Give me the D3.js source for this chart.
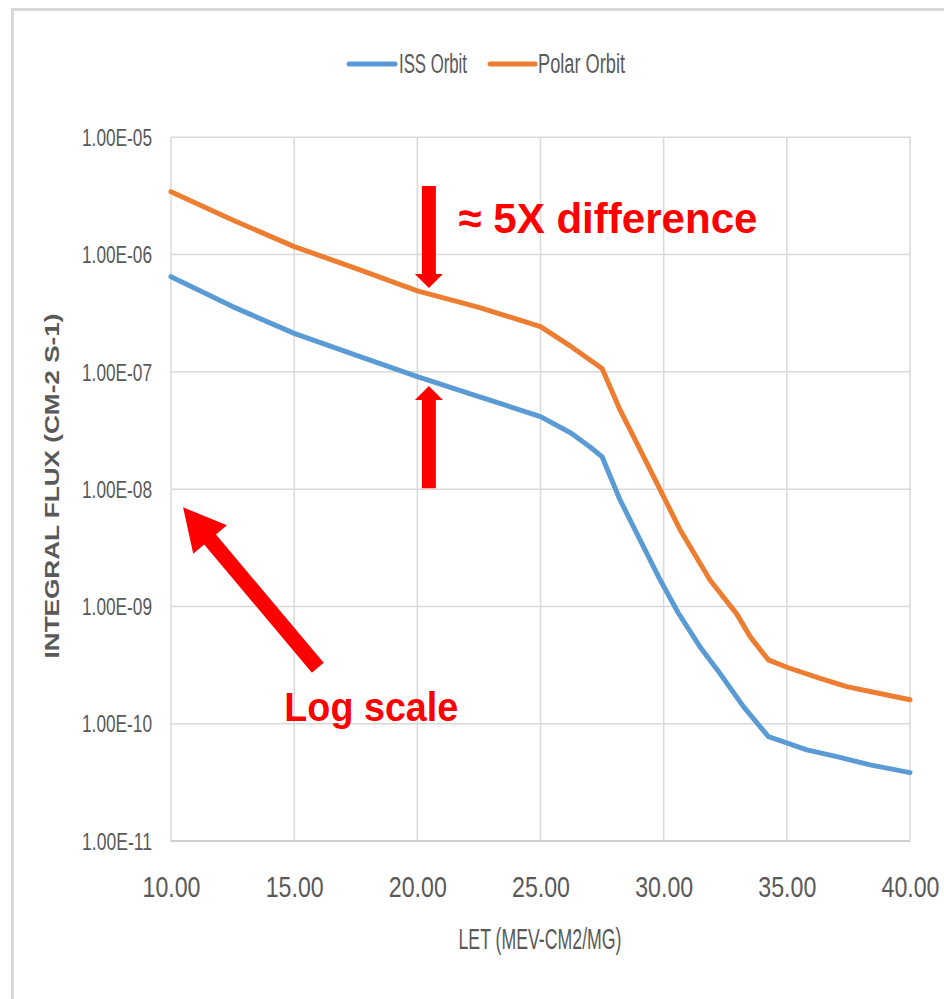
<!DOCTYPE html>
<html>
<head>
<meta charset="utf-8">
<script src="https://cdn.jsdelivr.net/npm/d3@7"></script>
<style>
  html, body { margin: 0; padding: 0; background: #ffffff; }
  svg { display: block; }
</style>
</head>
<body>
<script>
// ---------------- data ----------------
const seriesNames = ["ISS Orbit", "Polar Orbit"];
const seriesColors = ["#5B9BD5", "#ED7D31"];

const letISS = [10, 12.5, 15, 17.5, 20, 22.5, 25, 26.25, 27, 27.5, 28.23, 29.04, 29.86, 30.6, 31.47, 32.28, 33.24, 34.25, 34.73, 35.81, 37.03, 38.38, 40];
const fluxISS = [6.48e-7, 3.6e-7, 2.13e-7, 1.39e-7, 9.1e-8, 6.15e-8, 4.15e-8, 3.0e-8, 2.3e-8, 1.89e-8, 8.09e-9, 3.69e-9, 1.68e-9, 8.75e-10, 4.54e-10, 2.69e-10, 1.40e-10, 7.76e-11, 7.18e-11, 5.98e-11, 5.24e-11, 4.46e-11, 3.83e-11];

const letPolar = [10, 12.5, 15, 17.5, 20, 22.5, 25, 26.25, 27.5, 28.23, 28.64, 29.86, 30.67, 31.07, 31.88, 32.97, 33.51, 34.25, 35, 36.35, 37.43, 38.38, 40];
const fluxPolar = [3.44e-6, 1.97e-6, 1.17e-6, 7.64e-7, 4.9e-7, 3.55e-7, 2.43e-7, 1.64e-7, 1.07e-7, 4.73e-8, 3.2e-8, 9.85e-9, 4.49e-9, 3.24e-9, 1.68e-9, 8.6e-10, 5.53e-10, 3.5e-10, 3.03e-10, 2.44e-10, 2.07e-10, 1.88e-10, 1.6e-10];

const xTicks = [10, 15, 20, 25, 30, 35, 40];
const yTicks = [1e-5, 1e-6, 1e-7, 1e-8, 1e-9, 1e-10, 1e-11];
const yTickLabels = ["1.00E-05", "1.00E-06", "1.00E-07", "1.00E-08", "1.00E-09", "1.00E-10", "1.00E-11"];

const xTitle = "LET (MEV-CM2/MG)";
const yTitle = "INTEGRAL FLUX (CM-2 S-1)";

// annotations (data coordinates)
const noteDiffText = "≈ 5X difference";
const noteDiffPos = [21.67, 1.53e-6];
const noteLogText = "Log scale";
const noteLogPos = [14.6, 1.06e-10];
const arrowDown = { x: 20.47, from: 3.84e-6, to: 5.19e-7 };
const arrowUp = { x: 20.47, from: 1.02e-8, to: 7.59e-8 };
const arrowDiag = { from: [15.96, 3.0e-10], to: [10.49, 7.0e-9] };

// ---------------- layout ----------------
const W = 944, H = 999;
const M = { left: 171, right: 910, top: 137.3, bottom: 841 };
const textGray = "#595959";
const gridGray = "#D9D9D9";
const red = "#FF0000";
const font = "'Liberation Sans', Arial, sans-serif";

const svg = d3.select("body").append("svg").attr("width", W).attr("height", H);

// outer frame (left + top visible)
svg.append("path")
  .attr("d", `M12.5,${H} L12.5,9.5 L${W},9.5`)
  .attr("fill", "none").attr("stroke", gridGray).attr("stroke-width", 3);

const x = d3.scaleLinear().domain([10, 40]).range([M.left, M.right]);
const y = d3.scaleLog().domain([1e-11, 1e-5]).range([M.bottom, M.top]);

// gridlines
const gGrid = svg.append("g");
gGrid.selectAll("line.h").data(yTicks).join("line")
  .attr("x1", M.left).attr("x2", M.right)
  .attr("y1", d => y(d)).attr("y2", d => y(d))
  .attr("stroke", gridGray).attr("stroke-width", 1.5);
gGrid.selectAll("line.v").data(xTicks).join("line")
  .attr("y1", M.top).attr("y2", M.bottom)
  .attr("x1", d => x(d)).attr("x2", d => x(d))
  .attr("stroke", gridGray).attr("stroke-width", 1.5);
// bottom axis line
svg.append("line").attr("x1", M.left).attr("x2", M.right)
  .attr("y1", M.bottom).attr("y2", M.bottom)
  .attr("stroke", "#D0D0D0").attr("stroke-width", 2);

// y axis
const yAxis = d3.axisLeft(y).tickValues(yTicks)
  .tickFormat((d, i) => yTickLabels[i]).tickSize(0).tickPadding(0);
const gy = svg.append("g").attr("transform", `translate(152,0)`).call(yAxis);
gy.select(".domain").remove();
gy.selectAll("text")
  .attr("font-family", font).attr("font-size", 23)
  .attr("fill", textGray).attr("dy", "0.36em")
  .attr("textLength", 70).attr("lengthAdjust", "spacingAndGlyphs");

// x axis
const xAxis = d3.axisBottom(x).tickValues(xTicks)
  .tickFormat(d3.format(".2f")).tickSize(0).tickPadding(0);
const gx = svg.append("g").attr("transform", `translate(0,${M.bottom})`).call(xAxis);
gx.select(".domain").remove();
gx.selectAll("text")
  .attr("font-family", font).attr("font-size", 30)
  .attr("fill", textGray).attr("y", 55.5).attr("dy", 0)
  .attr("textLength", 58).attr("lengthAdjust", "spacingAndGlyphs");

// axis titles
svg.append("text").text(xTitle)
  .attr("x", 540).attr("y", 949).attr("text-anchor", "middle")
  .attr("font-family", font).attr("font-size", 29).attr("fill", textGray)
  .attr("textLength", 163).attr("lengthAdjust", "spacingAndGlyphs");

svg.append("text").text(yTitle)
  .attr("transform", `translate(59,${486}) rotate(-90)`)
  .attr("text-anchor", "middle")
  .attr("font-family", font).attr("font-size", 20).attr("font-weight", "bold")
  .attr("fill", textGray)
  .attr("textLength", 345).attr("lengthAdjust", "spacingAndGlyphs");

// series lines
const series = [
  { name: seriesNames[0], color: seriesColors[0], xs: letISS, ys: fluxISS },
  { name: seriesNames[1], color: seriesColors[1], xs: letPolar, ys: fluxPolar }
];
const line = d3.line().x(d => x(d[0])).y(d => y(d[1]));
svg.append("g").selectAll("path").data(series).join("path")
  .attr("d", s => line(s.xs.map((v, i) => [v, s.ys[i]])))
  .attr("fill", "none").attr("stroke", s => s.color)
  .attr("stroke-width", 5).attr("stroke-linejoin", "round").attr("stroke-linecap", "round");

// legend
const legendItems = [
  { x0: 349, x1: 395, tx: 399, tw: 68 },
  { x0: 490, x1: 535, tx: 538, tw: 87 }
];
const gLeg = svg.append("g");
series.forEach((s, i) => {
  const L = legendItems[i];
  gLeg.append("line").attr("x1", L.x0).attr("x2", L.x1).attr("y1", 64).attr("y2", 64)
    .attr("stroke", s.color).attr("stroke-width", 5).attr("stroke-linecap", "round");
  gLeg.append("text").text(s.name).attr("x", L.tx).attr("y", 73)
    .attr("font-family", font).attr("font-size", 27).attr("fill", textGray)
    .attr("textLength", L.tw).attr("lengthAdjust", "spacingAndGlyphs");
});

// ---------------- annotations ----------------
function vArrow(ax, yFrom, yTo) {
  const cx = x(ax.x), y0 = y(yFrom), y1 = y(yTo);
  const dir = Math.sign(y1 - y0);
  const shaftHalf = 7, headHalf = 14, headLen = 14;
  const yb = y1 - dir * headLen;
  const pts = [
    [cx - shaftHalf, y0], [cx + shaftHalf, y0], [cx + shaftHalf, yb],
    [cx + headHalf, yb], [cx, y1], [cx - headHalf, yb], [cx - shaftHalf, yb]
  ];
  svg.append("polygon").attr("points", pts.map(p => p.join(",")).join(" ")).attr("fill", red);
}
vArrow(arrowDown, arrowDown.from, arrowDown.to);
vArrow(arrowUp, arrowUp.from, arrowUp.to);

(function diagArrow() {
  const x0 = x(arrowDiag.from[0]), y0 = y(arrowDiag.from[1]);
  const x1 = x(arrowDiag.to[0]), y1 = y(arrowDiag.to[1]);
  const dx = x1 - x0, dy = y1 - y0, len = Math.hypot(dx, dy);
  const ux = dx / len, uy = dy / len, px = -uy, py = ux;
  const sh = 7.7, hh = 22, hl = 42;
  const bx = x1 - ux * hl, by = y1 - uy * hl;
  const pts = [
    [x0 + px * sh, y0 + py * sh], [bx + px * sh, by + py * sh], [bx + px * hh, by + py * hh],
    [x1, y1], [bx - px * hh, by - py * hh], [bx - px * sh, by - py * sh], [x0 - px * sh, y0 - py * sh]
  ];
  svg.append("polygon").attr("points", pts.map(p => p.join(",")).join(" ")).attr("fill", red);
})();

svg.append("text").text(noteDiffText)
  .attr("x", x(noteDiffPos[0])).attr("y", y(noteDiffPos[1]))
  .attr("font-family", font).attr("font-size", 43).attr("font-weight", "bold").attr("fill", red)
  .attr("textLength", 299).attr("lengthAdjust", "spacingAndGlyphs");

svg.append("text").text(noteLogText)
  .attr("x", x(noteLogPos[0])).attr("y", y(noteLogPos[1]))
  .attr("font-family", font).attr("font-size", 41).attr("font-weight", "bold").attr("fill", red)
  .attr("textLength", 174).attr("lengthAdjust", "spacingAndGlyphs");
</script>
</body>
</html>
